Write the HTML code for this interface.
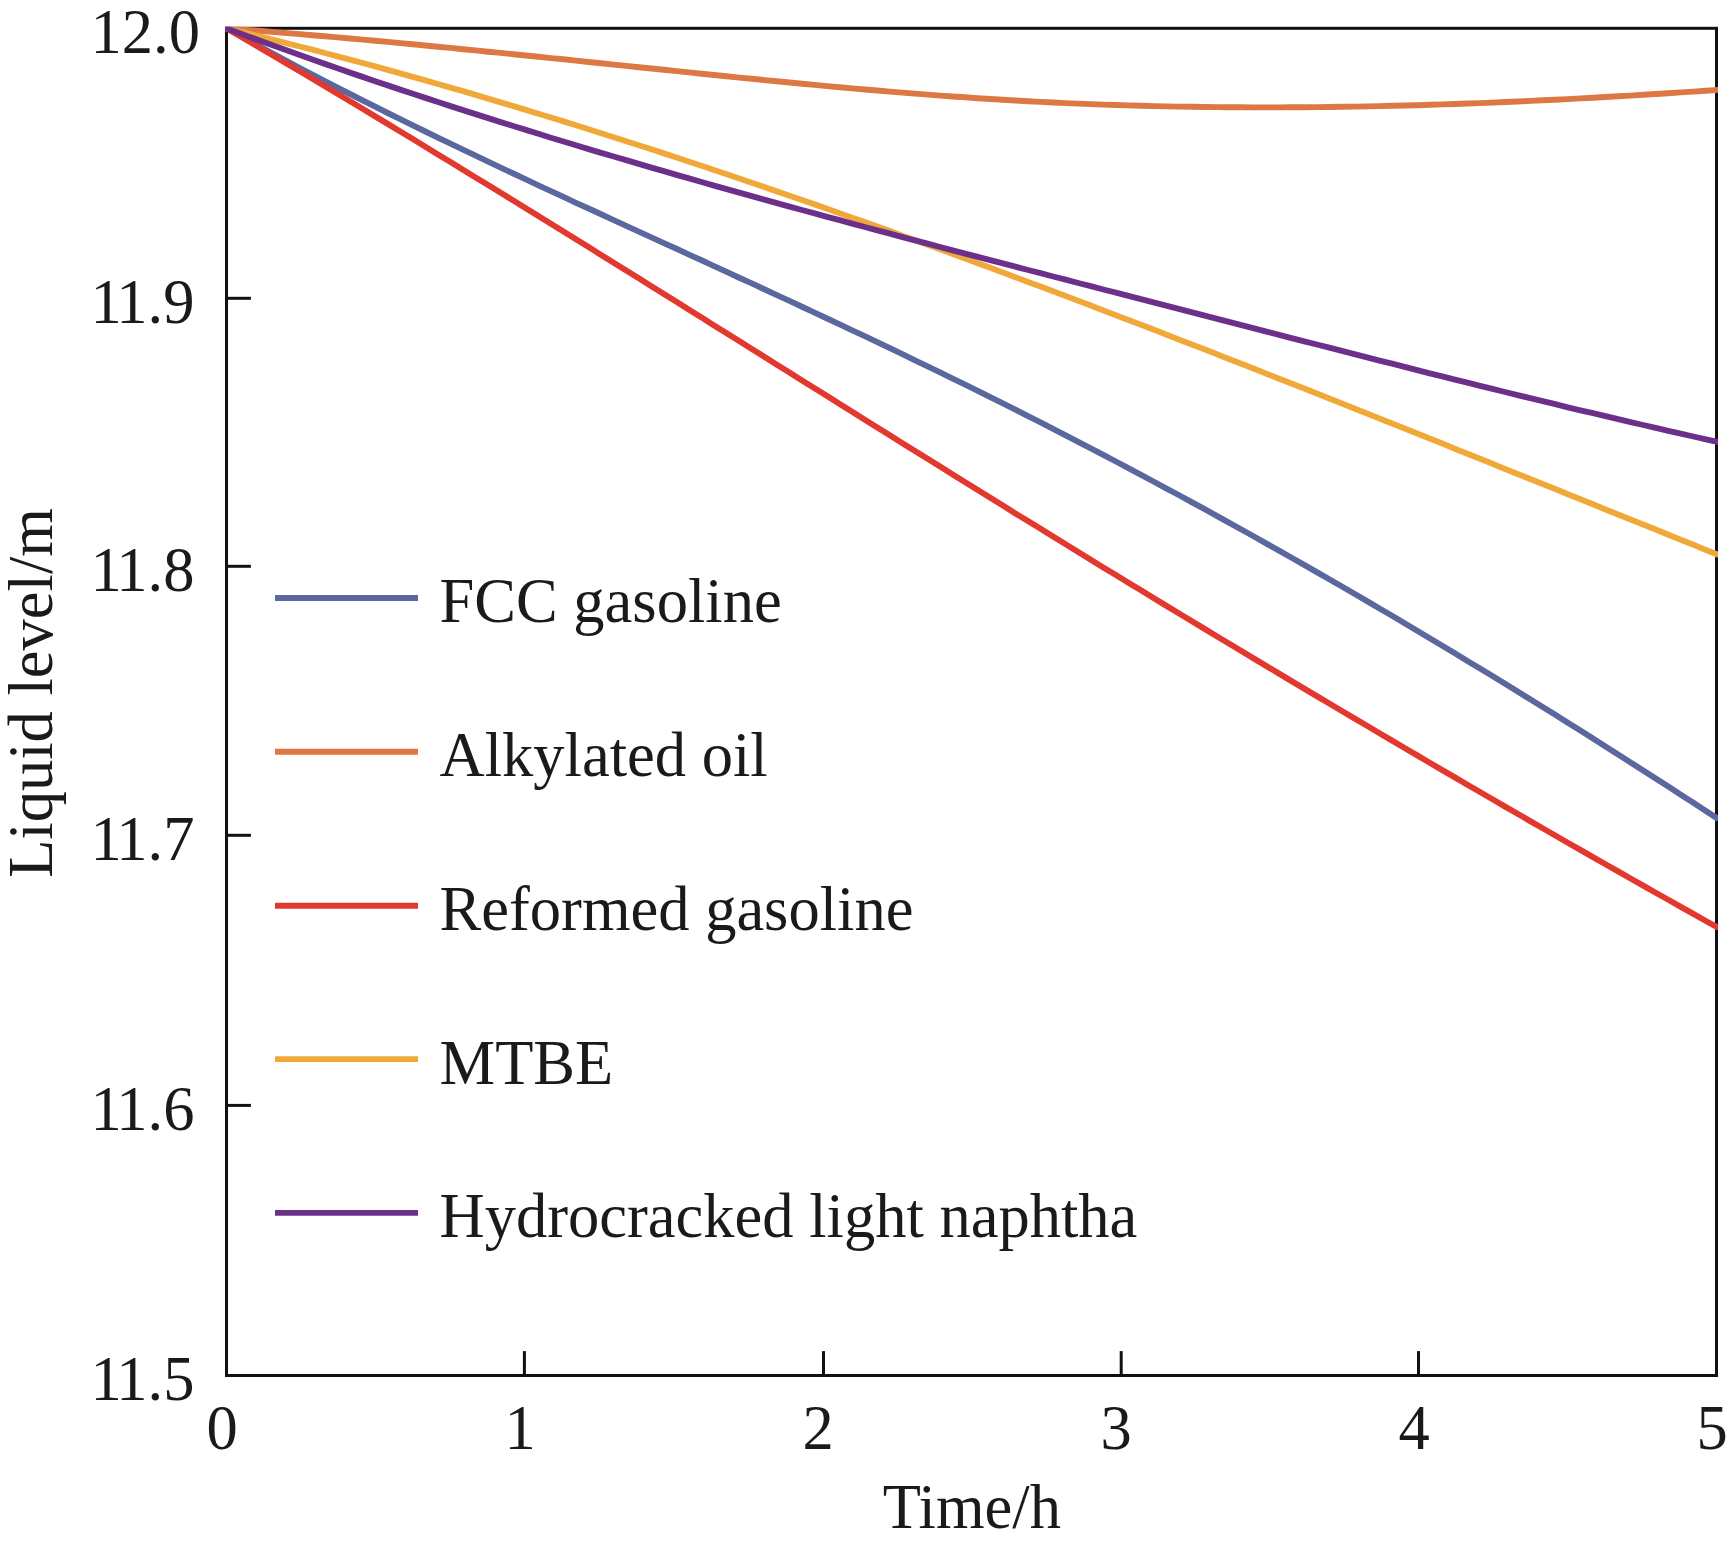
<!DOCTYPE html>
<html><head><meta charset="utf-8"><title>Liquid level vs time</title>
<style>
html,body{margin:0;padding:0;background:#fff;}
body{width:1729px;height:1548px;overflow:hidden;}
svg{display:block;}
text{font-family:"Liberation Serif",serif;font-size:62.5px;fill:#1a1a1a;}
</style></head><body>
<svg width="1729" height="1548" viewBox="0 0 1729 1548">
<rect x="0" y="0" width="1729" height="1548" fill="#ffffff"/>
<defs><clipPath id="c"><rect x="225.0" y="26.8" width="1493.0" height="1350.2"/></clipPath></defs>

<rect x="226.5" y="28.3" width="1490.0" height="1347.2" fill="none" stroke="#111" stroke-width="3"/>
<line x1="226.5" y1="298.3" x2="250.9" y2="298.3" stroke="#111" stroke-width="3"/>
<line x1="226.5" y1="566.3" x2="250.9" y2="566.3" stroke="#111" stroke-width="3"/>
<line x1="226.5" y1="835.3" x2="250.9" y2="835.3" stroke="#111" stroke-width="3"/>
<line x1="226.5" y1="1105.4" x2="250.9" y2="1105.4" stroke="#111" stroke-width="3"/>
<line x1="524.4" y1="1375.5" x2="524.4" y2="1351.1" stroke="#111" stroke-width="3"/>
<line x1="823.5" y1="1375.5" x2="823.5" y2="1351.1" stroke="#111" stroke-width="3"/>
<line x1="1121.2" y1="1375.5" x2="1121.2" y2="1351.1" stroke="#111" stroke-width="3"/>
<line x1="1418.5" y1="1375.5" x2="1418.5" y2="1351.1" stroke="#111" stroke-width="3"/>
<g clip-path="url(#c)" fill="none" stroke-width="5.9" stroke-linejoin="round">
<path d="M224.5,27.2 L237.1,34.2 L249.6,41.1 L262.2,47.9 L274.7,54.7 L287.3,61.4 L299.8,68.0 L312.4,74.6 L324.9,81.1 L337.5,87.6 L350.0,94.0 L362.6,100.4 L375.2,106.7 L387.7,113.0 L400.3,119.2 L412.8,125.4 L425.4,131.5 L437.9,137.6 L450.5,143.7 L463.0,149.7 L475.6,155.7 L488.1,161.7 L500.7,167.6 L513.3,173.5 L525.8,179.4 L538.4,185.3 L550.9,191.1 L563.5,196.9 L576.0,202.8 L588.6,208.5 L601.1,214.3 L613.7,220.1 L626.2,225.9 L638.8,231.6 L651.4,237.4 L663.9,243.1 L676.5,248.8 L689.0,254.6 L701.6,260.3 L714.1,266.1 L726.7,271.9 L739.2,277.7 L751.8,283.4 L764.3,289.2 L776.9,295.1 L789.5,300.9 L802.0,306.7 L814.6,312.6 L827.1,318.5 L839.7,324.4 L852.2,330.3 L864.8,336.2 L877.3,342.2 L889.9,348.2 L902.4,354.2 L915.0,360.3 L927.6,366.3 L940.1,372.4 L952.7,378.6 L965.2,384.7 L977.8,390.9 L990.3,397.2 L1002.9,403.4 L1015.4,409.7 L1028.0,416.1 L1040.6,422.4 L1053.1,428.8 L1065.7,435.3 L1078.2,441.8 L1090.8,448.3 L1103.3,454.9 L1115.9,461.5 L1128.4,468.1 L1141.0,474.8 L1153.5,481.5 L1166.1,488.3 L1178.7,495.0 L1191.2,501.9 L1203.8,508.7 L1216.3,515.6 L1228.9,522.6 L1241.4,529.5 L1254.0,536.5 L1266.5,543.6 L1279.1,550.6 L1291.6,557.7 L1304.2,564.9 L1316.8,572.1 L1329.3,579.3 L1341.9,586.5 L1354.4,593.8 L1367.0,601.1 L1379.5,608.5 L1392.1,615.8 L1404.6,623.3 L1417.2,630.7 L1429.7,638.2 L1442.3,645.7 L1454.9,653.3 L1467.4,660.9 L1480.0,668.5 L1492.5,676.1 L1505.1,683.8 L1517.6,691.5 L1530.2,699.3 L1542.7,707.0 L1555.3,714.8 L1567.8,722.7 L1580.4,730.6 L1593.0,738.5 L1605.5,746.4 L1618.1,754.4 L1630.6,762.4 L1643.2,770.4 L1655.7,778.5 L1668.3,786.6 L1680.8,794.7 L1693.4,802.8 L1705.9,811.0 L1718.5,819.2" stroke="#5a689f"/>
<path d="M224.5,28.2 L237.1,29.1 L249.6,30.1 L262.2,31.0 L274.7,32.1 L287.3,33.1 L299.8,34.1 L312.4,35.2 L324.9,36.3 L337.5,37.4 L350.0,38.5 L362.6,39.6 L375.2,40.8 L387.7,41.9 L400.3,43.1 L412.8,44.3 L425.4,45.5 L437.9,46.7 L450.5,47.9 L463.0,49.2 L475.6,50.4 L488.1,51.7 L500.7,52.9 L513.3,54.2 L525.8,55.5 L538.4,56.8 L550.9,58.1 L563.5,59.3 L576.0,60.6 L588.6,62.0 L601.1,63.3 L613.7,64.6 L626.2,65.9 L638.8,67.2 L651.4,68.5 L663.9,69.8 L676.5,71.1 L689.0,72.4 L701.6,73.7 L714.1,75.0 L726.7,76.3 L739.2,77.6 L751.8,78.8 L764.3,80.1 L776.9,81.3 L789.5,82.5 L802.0,83.7 L814.6,84.9 L827.1,86.1 L839.7,87.2 L852.2,88.4 L864.8,89.5 L877.3,90.5 L889.9,91.6 L902.4,92.6 L915.0,93.6 L927.6,94.6 L940.1,95.6 L952.7,96.5 L965.2,97.3 L977.8,98.2 L990.3,99.0 L1002.9,99.8 L1015.4,100.5 L1028.0,101.2 L1040.6,101.9 L1053.1,102.5 L1065.7,103.1 L1078.2,103.6 L1090.8,104.1 L1103.3,104.6 L1115.9,105.0 L1128.4,105.4 L1141.0,105.8 L1153.5,106.1 L1166.1,106.4 L1178.7,106.6 L1191.2,106.8 L1203.8,107.0 L1216.3,107.1 L1228.9,107.3 L1241.4,107.3 L1254.0,107.4 L1266.5,107.4 L1279.1,107.4 L1291.6,107.3 L1304.2,107.2 L1316.8,107.1 L1329.3,107.0 L1341.9,106.8 L1354.4,106.6 L1367.0,106.4 L1379.5,106.1 L1392.1,105.8 L1404.6,105.5 L1417.2,105.2 L1429.7,104.8 L1442.3,104.4 L1454.9,104.0 L1467.4,103.5 L1480.0,103.1 L1492.5,102.6 L1505.1,102.0 L1517.6,101.5 L1530.2,100.9 L1542.7,100.3 L1555.3,99.7 L1567.8,99.1 L1580.4,98.4 L1593.0,97.7 L1605.5,97.0 L1618.1,96.3 L1630.6,95.6 L1643.2,94.8 L1655.7,94.0 L1668.3,93.2 L1680.8,92.4 L1693.4,91.6 L1705.9,90.7 L1718.5,89.8" stroke="#dd7744"/>
<path d="M224.5,27.1 L237.1,34.4 L249.6,41.8 L262.2,49.1 L274.7,56.5 L287.3,63.9 L299.8,71.3 L312.4,78.8 L324.9,86.3 L337.5,93.8 L350.0,101.3 L362.6,108.8 L375.2,116.4 L387.7,123.9 L400.3,131.5 L412.8,139.1 L425.4,146.7 L437.9,154.4 L450.5,162.0 L463.0,169.7 L475.6,177.4 L488.1,185.1 L500.7,192.8 L513.3,200.5 L525.8,208.3 L538.4,216.0 L550.9,223.8 L563.5,231.5 L576.0,239.3 L588.6,247.1 L601.1,254.9 L613.7,262.7 L626.2,270.5 L638.8,278.3 L651.4,286.2 L663.9,294.0 L676.5,301.8 L689.0,309.7 L701.6,317.5 L714.1,325.4 L726.7,333.2 L739.2,341.1 L751.8,348.9 L764.3,356.8 L776.9,364.7 L789.5,372.5 L802.0,380.4 L814.6,388.2 L827.1,396.1 L839.7,404.0 L852.2,411.8 L864.8,419.7 L877.3,427.5 L889.9,435.3 L902.4,443.2 L915.0,451.0 L927.6,458.8 L940.1,466.6 L952.7,474.4 L965.2,482.2 L977.8,490.0 L990.3,497.8 L1002.9,505.6 L1015.4,513.4 L1028.0,521.1 L1040.6,528.8 L1053.1,536.6 L1065.7,544.3 L1078.2,552.0 L1090.8,559.7 L1103.3,567.4 L1115.9,575.0 L1128.4,582.7 L1141.0,590.3 L1153.5,598.0 L1166.1,605.6 L1178.7,613.2 L1191.2,620.8 L1203.8,628.4 L1216.3,636.0 L1228.9,643.5 L1241.4,651.1 L1254.0,658.6 L1266.5,666.1 L1279.1,673.6 L1291.6,681.1 L1304.2,688.6 L1316.8,696.1 L1329.3,703.5 L1341.9,711.0 L1354.4,718.4 L1367.0,725.8 L1379.5,733.2 L1392.1,740.6 L1404.6,748.0 L1417.2,755.4 L1429.7,762.7 L1442.3,770.1 L1454.9,777.4 L1467.4,784.7 L1480.0,792.0 L1492.5,799.3 L1505.1,806.6 L1517.6,813.8 L1530.2,821.1 L1542.7,828.3 L1555.3,835.5 L1567.8,842.7 L1580.4,849.9 L1593.0,857.1 L1605.5,864.2 L1618.1,871.4 L1630.6,878.5 L1643.2,885.6 L1655.7,892.7 L1668.3,899.8 L1680.8,906.9 L1693.4,913.9 L1705.9,921.0 L1718.5,928.0" stroke="#e2382e"/>
<path d="M224.5,27.8 L237.1,30.8 L249.6,33.9 L262.2,37.0 L274.7,40.1 L287.3,43.3 L299.8,46.5 L312.4,49.7 L324.9,53.0 L337.5,56.3 L350.0,59.6 L362.6,63.0 L375.2,66.4 L387.7,69.9 L400.3,73.3 L412.8,76.9 L425.4,80.4 L437.9,84.0 L450.5,87.6 L463.0,91.2 L475.6,94.9 L488.1,98.6 L500.7,102.3 L513.3,106.1 L525.8,109.9 L538.4,113.7 L550.9,117.5 L563.5,121.4 L576.0,125.3 L588.6,129.2 L601.1,133.2 L613.7,137.2 L626.2,141.2 L638.8,145.2 L651.4,149.3 L663.9,153.4 L676.5,157.5 L689.0,161.7 L701.6,165.8 L714.1,170.0 L726.7,174.2 L739.2,178.5 L751.8,182.7 L764.3,187.0 L776.9,191.4 L789.5,195.7 L802.0,200.0 L814.6,204.4 L827.1,208.8 L839.7,213.2 L852.2,217.7 L864.8,222.1 L877.3,226.6 L889.9,231.1 L902.4,235.7 L915.0,240.2 L927.6,244.8 L940.1,249.3 L952.7,253.9 L965.2,258.5 L977.8,263.2 L990.3,267.8 L1002.9,272.5 L1015.4,277.2 L1028.0,281.9 L1040.6,286.6 L1053.1,291.3 L1065.7,296.0 L1078.2,300.8 L1090.8,305.6 L1103.3,310.4 L1115.9,315.2 L1128.4,320.0 L1141.0,324.8 L1153.5,329.6 L1166.1,334.5 L1178.7,339.4 L1191.2,344.2 L1203.8,349.1 L1216.3,354.0 L1228.9,358.9 L1241.4,363.8 L1254.0,368.8 L1266.5,373.7 L1279.1,378.7 L1291.6,383.6 L1304.2,388.6 L1316.8,393.5 L1329.3,398.5 L1341.9,403.5 L1354.4,408.5 L1367.0,413.5 L1379.5,418.5 L1392.1,423.5 L1404.6,428.6 L1417.2,433.6 L1429.7,438.6 L1442.3,443.6 L1454.9,448.7 L1467.4,453.7 L1480.0,458.8 L1492.5,463.8 L1505.1,468.9 L1517.6,473.9 L1530.2,479.0 L1542.7,484.0 L1555.3,489.1 L1567.8,494.2 L1580.4,499.2 L1593.0,504.3 L1605.5,509.4 L1618.1,514.4 L1630.6,519.5 L1643.2,524.6 L1655.7,529.6 L1668.3,534.7 L1680.8,539.7 L1693.4,544.8 L1705.9,549.9 L1718.5,554.9" stroke="#f0a838"/>
<path d="M224.5,27.6 L237.1,32.2 L249.6,36.9 L262.2,41.5 L274.7,46.0 L287.3,50.5 L299.8,55.0 L312.4,59.5 L324.9,63.9 L337.5,68.2 L350.0,72.6 L362.6,76.9 L375.2,81.2 L387.7,85.4 L400.3,89.6 L412.8,93.8 L425.4,97.9 L437.9,102.0 L450.5,106.1 L463.0,110.1 L475.6,114.1 L488.1,118.1 L500.7,122.1 L513.3,126.0 L525.8,129.9 L538.4,133.8 L550.9,137.7 L563.5,141.5 L576.0,145.3 L588.6,149.1 L601.1,152.8 L613.7,156.5 L626.2,160.2 L638.8,163.9 L651.4,167.6 L663.9,171.2 L676.5,174.8 L689.0,178.4 L701.6,182.0 L714.1,185.6 L726.7,189.1 L739.2,192.6 L751.8,196.2 L764.3,199.6 L776.9,203.1 L789.5,206.6 L802.0,210.0 L814.6,213.4 L827.1,216.8 L839.7,220.2 L852.2,223.6 L864.8,227.0 L877.3,230.4 L889.9,233.7 L902.4,237.1 L915.0,240.4 L927.6,243.7 L940.1,247.0 L952.7,250.3 L965.2,253.6 L977.8,256.9 L990.3,260.2 L1002.9,263.4 L1015.4,266.7 L1028.0,270.0 L1040.6,273.2 L1053.1,276.5 L1065.7,279.7 L1078.2,283.0 L1090.8,286.2 L1103.3,289.5 L1115.9,292.7 L1128.4,295.9 L1141.0,299.2 L1153.5,302.4 L1166.1,305.7 L1178.7,308.9 L1191.2,312.1 L1203.8,315.4 L1216.3,318.6 L1228.9,321.9 L1241.4,325.1 L1254.0,328.3 L1266.5,331.6 L1279.1,334.8 L1291.6,338.1 L1304.2,341.3 L1316.8,344.5 L1329.3,347.7 L1341.9,350.9 L1354.4,354.2 L1367.0,357.4 L1379.5,360.6 L1392.1,363.7 L1404.6,366.9 L1417.2,370.1 L1429.7,373.3 L1442.3,376.4 L1454.9,379.6 L1467.4,382.7 L1480.0,385.8 L1492.5,388.9 L1505.1,392.0 L1517.6,395.1 L1530.2,398.1 L1542.7,401.2 L1555.3,404.2 L1567.8,407.3 L1580.4,410.3 L1593.0,413.2 L1605.5,416.2 L1618.1,419.2 L1630.6,422.1 L1643.2,425.0 L1655.7,427.9 L1668.3,430.8 L1680.8,433.6 L1693.4,436.5 L1705.9,439.3 L1718.5,442.1" stroke="#6c308a"/>
</g>
<text x="90.6" y="52.5">12.0</text>
<text x="90.6" y="322.5">1<tspan dx="-3.2">1</tspan>.9</text>
<text x="90.6" y="590.5">1<tspan dx="-3.2">1</tspan>.8</text>
<text x="90.6" y="859.5">1<tspan dx="-3.2">1</tspan>.7</text>
<text x="90.6" y="1129.6">1<tspan dx="-3.2">1</tspan>.6</text>
<text x="90.6" y="1399.7">1<tspan dx="-3.2">1</tspan>.5</text>
<text x="222.0" y="1449" text-anchor="middle">0</text>
<text x="520.0" y="1449" text-anchor="middle">1</text>
<text x="818.0" y="1449" text-anchor="middle">2</text>
<text x="1116.0" y="1449" text-anchor="middle">3</text>
<text x="1414.0" y="1449" text-anchor="middle">4</text>
<text x="1712.0" y="1449" text-anchor="middle">5</text>
<text x="971.8" y="1528" text-anchor="middle">Time/h</text>
<text transform="translate(51.5,693) rotate(-90)" text-anchor="middle">Liquid level/m</text>
<line x1="275" y1="598" x2="418" y2="598" stroke="#5a689f" stroke-width="5.9"/>
<text x="439.6" y="621.6">FCC gasoline</text>
<line x1="275" y1="751.8" x2="418" y2="751.8" stroke="#dd7744" stroke-width="5.9"/>
<text x="439.6" y="775.6">Alkylated oil</text>
<line x1="275" y1="905.8" x2="418" y2="905.8" stroke="#e2382e" stroke-width="5.9"/>
<text x="439.6" y="929.5">Reformed gasoline</text>
<line x1="275" y1="1059.1" x2="418" y2="1059.1" stroke="#f0a838" stroke-width="5.9"/>
<text x="439.6" y="1083.5">MTBE</text>
<line x1="275" y1="1212.9" x2="418" y2="1212.9" stroke="#6c308a" stroke-width="5.9"/>
<text x="439.6" y="1237.2">Hydrocracked light naphtha</text>
</svg></body></html>
